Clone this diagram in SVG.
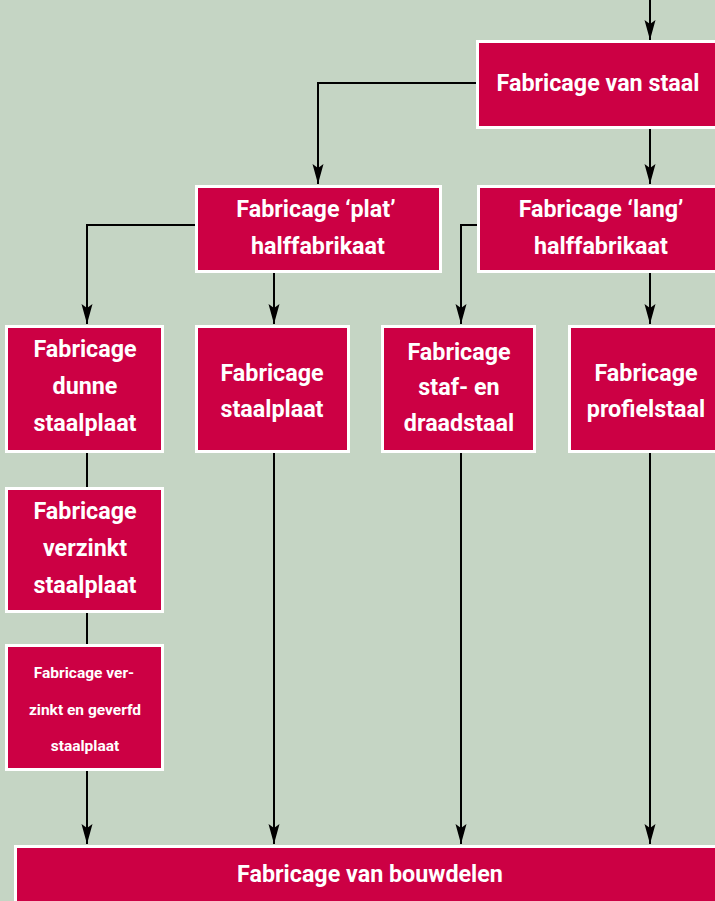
<svg xmlns="http://www.w3.org/2000/svg" width="715" height="901" viewBox="0 0 715 901">
<style>
.box{fill:#CC0044;stroke:#FFFFFF;stroke-width:3}
.t{font-family:Roboto,"Liberation Sans",sans-serif;font-weight:700;font-size:23.3px;fill:#FFFFFF;text-anchor:middle}
.s{font-size:15.5px}
.c{fill:none;stroke:#000000;stroke-width:2}
</style>
<defs>
<marker id="arr" markerUnits="userSpaceOnUse" markerWidth="21" markerHeight="12" refX="20" refY="6" orient="auto" overflow="visible">
<path d="M0,0.5 L20,6 L0,11.5 L4,6 z" fill="#000000"/>
</marker>
</defs>
<rect width="715" height="901" fill="#C5D5C4"/>
<g id="connectors">
<path class="c" d="M650,0 V40" marker-end="url(#arr)"/>
<path class="c" d="M477,83 H318 V184" marker-end="url(#arr)"/>
<path class="c" d="M650,129 V184" marker-end="url(#arr)"/>
<path class="c" d="M196,225 H87 V324" marker-end="url(#arr)"/>
<path class="c" d="M274,273 V324" marker-end="url(#arr)"/>
<path class="c" d="M477,225 H461 V324" marker-end="url(#arr)"/>
<path class="c" d="M650,273 V324" marker-end="url(#arr)"/>
<path class="c" d="M87,453 V487"/>
<path class="c" d="M87,613 V644"/>
<path class="c" d="M87,771 V844" marker-end="url(#arr)"/>
<path class="c" d="M274,453 V844" marker-end="url(#arr)"/>
<path class="c" d="M461,453 V844" marker-end="url(#arr)"/>
<path class="c" d="M650,453 V844" marker-end="url(#arr)"/>
</g>
<g id="staal">
<rect class="box" x="477.5" y="41.5" width="250" height="86"/>
<text class="t" x="598" y="91">Fabricage van staal</text>
</g>
<g id="plat">
<rect class="box" x="196.5" y="186.5" width="244" height="85"/>
<text class="t" x="316" y="217">Fabricage ‘plat’</text>
<text class="t" x="318" y="254">halffabrikaat</text>
</g>
<g id="lang">
<rect class="box" x="478.5" y="186.5" width="250" height="85"/>
<text class="t" x="601" y="217">Fabricage ‘lang’</text>
<text class="t" x="601" y="254">halffabrikaat</text>
</g>
<g id="dunne">
<rect class="box" x="6.5" y="326.5" width="156" height="125"/>
<text class="t" x="85" y="357">Fabricage</text>
<text class="t" x="85" y="394">dunne</text>
<text class="t" x="85" y="431">staalplaat</text>
</g>
<g id="staalplaat">
<rect class="box" x="196.5" y="326.5" width="152" height="125"/>
<text class="t" x="272" y="381">Fabricage</text>
<text class="t" x="272" y="417">staalplaat</text>
</g>
<g id="draadstaal">
<rect class="box" x="382.5" y="326.5" width="152" height="125"/>
<text class="t" x="459" y="360">Fabricage</text>
<text class="t" x="459" y="395">staf- en</text>
<text class="t" x="459" y="431">draadstaal</text>
</g>
<g id="profielstaal">
<rect class="box" x="569.5" y="326.5" width="160" height="125"/>
<text class="t" x="646" y="381">Fabricage</text>
<text class="t" x="646" y="417">profielstaal</text>
</g>
<g id="verzinkt">
<rect class="box" x="6.5" y="488.5" width="156" height="123"/>
<text class="t" x="85" y="519">Fabricage</text>
<text class="t" x="85" y="556">verzinkt</text>
<text class="t" x="85" y="593">staalplaat</text>
</g>
<g id="geverfd">
<rect class="box" x="6.5" y="645.5" width="156" height="124"/>
<text class="t s" x="84" y="678">Fabricage ver-</text>
<text class="t s" x="85" y="715">zinkt en geverfd</text>
<text class="t s" x="85" y="751">staalplaat</text>
</g>
<g id="bouwdelen">
<rect class="box" x="15.5" y="846.5" width="720" height="70"/>
<text class="t" x="370" y="882">Fabricage van bouwdelen</text>
</g>
</svg>
